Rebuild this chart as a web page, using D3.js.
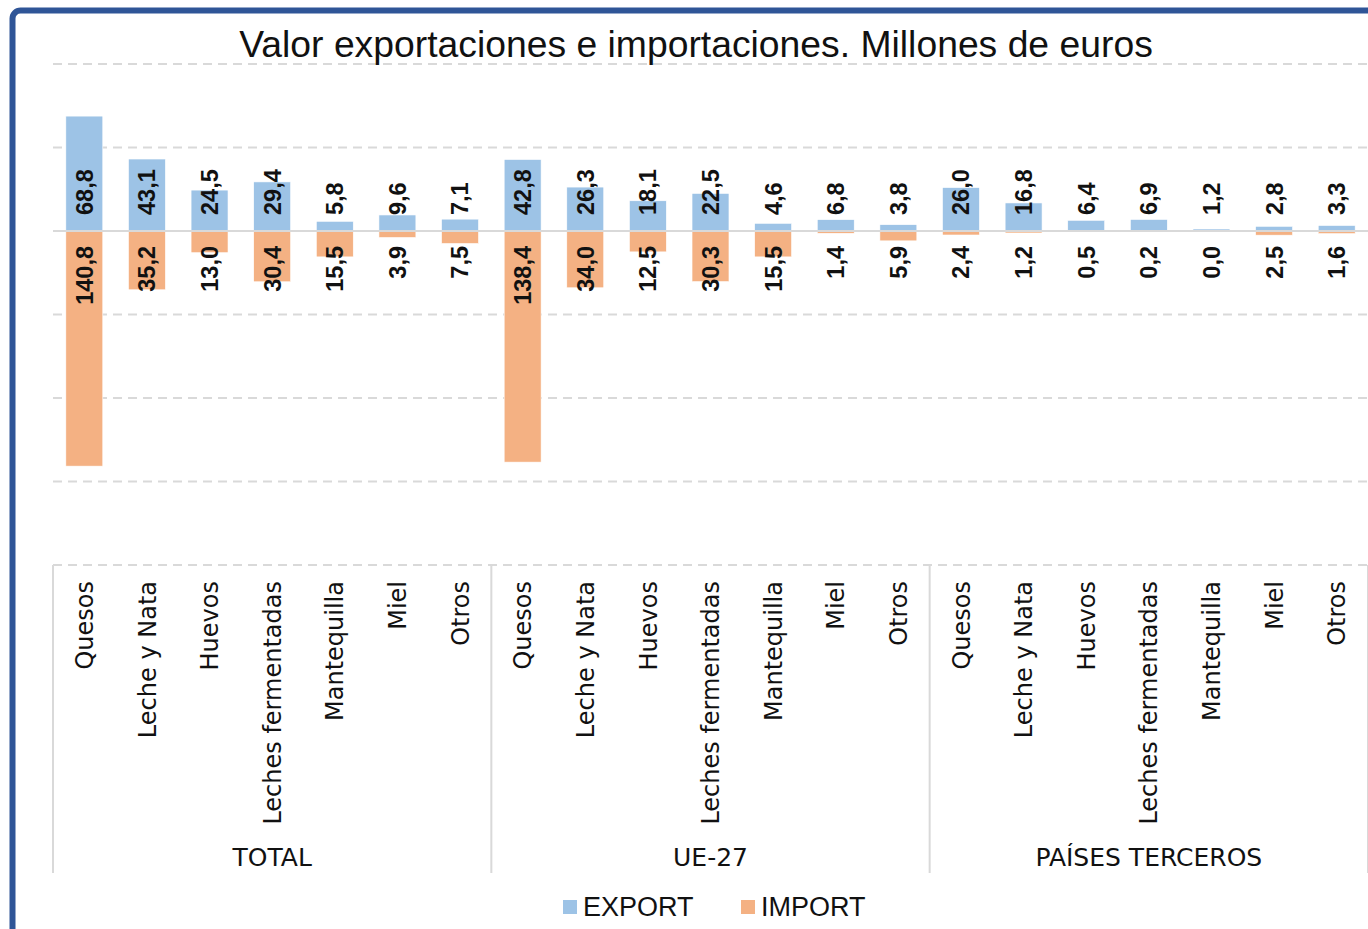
<!DOCTYPE html>
<html>
<head>
<meta charset="utf-8">
<script src="https://cdn.jsdelivr.net/npm/d3@7"></script>
<style>
  html, body { margin: 0; padding: 0; background: #fff; overflow: hidden; }
  svg { display: block; }
</style>
</head>
<body>
<svg id="chart"></svg>
<script>
// values (millones de euros)
var groups = ["TOTAL", "UE-27", "PAÍSES TERCEROS"];
var categories = ["Quesos", "Leche y Nata", "Huevos", "Leches fermentadas", "Mantequilla", "Miel", "Otros"];
var exportTotal = [68.8, 43.1, 24.5, 29.4, 5.8, 9.6, 7.1];
var importTotal = [140.8, 35.2, 13.0, 30.4, 15.5, 3.9, 7.5];
var exportUE = [42.8, 26.3, 18.1, 22.5, 4.6, 6.8, 3.8];
var importUE = [138.4, 34.0, 12.5, 30.3, 15.5, 1.4, 5.9];
var exportTerceros = [26.0, 16.8, 6.4, 6.9, 1.2, 2.8, 3.3];
var importTerceros = [2.4, 1.2, 0.5, 0.2, 0.0, 2.5, 1.6];
var yTicks = [-200, -150, -100, -50, 0, 50, 100];

var exportsByGroup = [exportTotal, exportUE, exportTerceros];
var importsByGroup = [importTotal, importUE, importTerceros];

const width = 1368, height = 929;
const blue = "#9DC3E6", orange = "#F4B183", grid = "#D9D9D9";

const svg = d3.select("#chart").attr("width", width).attr("height", height);

// flatten into rows
var rows = [];
groups.forEach(function(g, gi) {
    categories.forEach(function(c, ci) {
        rows.push({ group: g, cat: c, exp: exportsByGroup[gi][ci], imp: importsByGroup[gi][ci] });
    });
});

const xGroup = d3.scaleBand().domain(groups).range([53, 1368]);
const xCat = d3.scaleBand().domain(categories).range([0, xGroup.bandwidth()])
    .paddingInner(0.41).paddingOuter(0.205);
const y = d3.scaleLinear().domain([-200, 100]).range([565, 64]);

function cx(d) { return xGroup(d.group) + xCat(d.cat) + xCat.bandwidth() / 2; }

// frame
svg.append("rect")
    .attr("x", 12.5).attr("y", 10.5)
    .attr("width", 1500).attr("height", 1100)
    .attr("rx", 8)
    .attr("fill", "none")
    .attr("stroke", "#2F5597")
    .attr("stroke-width", 6);

// gridlines
svg.append("g").selectAll("line")
    .data(yTicks.filter(t => t !== 0))
    .enter().append("line")
    .attr("x1", 53).attr("x2", 1368)
    .attr("y1", d => y(d)).attr("y2", d => y(d))
    .attr("stroke", grid)
    .attr("stroke-width", 2)
    .attr("stroke-dasharray", "9,6");

// title
svg.append("text")
    .attr("x", 696).attr("y", 57)
    .attr("text-anchor", "middle")
    .style("font-family", "'Liberation Sans', Arial, sans-serif")
    .style("font-size", "37.3px")
    .attr("fill", "#111")
    .text("Valor exportaciones e importaciones. Millones de euros");

// bars
svg.append("g").selectAll("rect")
    .data(rows)
    .enter().append("rect")
    .attr("x", d => xGroup(d.group) + xCat(d.cat))
    .attr("width", xCat.bandwidth())
    .attr("y", d => y(d.exp))
    .attr("height", d => y(0) - y(d.exp))
    .attr("fill", blue)
    .attr("stroke", "#fff").attr("stroke-width", 0.6);

svg.append("g").selectAll("rect")
    .data(rows)
    .enter().append("rect")
    .attr("x", d => xGroup(d.group) + xCat(d.cat))
    .attr("width", xCat.bandwidth())
    .attr("y", y(0))
    .attr("height", d => y(-d.imp) - y(0))
    .attr("fill", orange)
    .attr("stroke", "#fff").attr("stroke-width", 0.6);

// zero line
svg.append("line")
    .attr("x1", 53).attr("x2", 1368)
    .attr("y1", y(0)).attr("y2", y(0))
    .attr("stroke", grid).attr("stroke-width", 2);

var fmt = v => v.toFixed(1).replace(".", ",");

// data labels
svg.append("g").selectAll("text")
    .data(rows)
    .enter().append("text")
    .attr("transform", d => "translate(" + cx(d) + "," + (y(0) - 16) + ") rotate(-90)")
    .attr("dy", "0.36em")
    .attr("text-anchor", "start")
    .style("font-family", "'Liberation Sans', Arial, sans-serif")
    .style("font-weight", "bold")
    .style("font-size", "23.5px")
    .attr("fill", "#111")
    .text(d => fmt(d.exp));

svg.append("g").selectAll("text")
    .data(rows)
    .enter().append("text")
    .attr("transform", d => "translate(" + cx(d) + "," + (y(0) + 15) + ") rotate(-90)")
    .attr("dy", "0.36em")
    .attr("text-anchor", "end")
    .style("font-family", "'Liberation Sans', Arial, sans-serif")
    .style("font-weight", "bold")
    .style("font-size", "23.5px")
    .attr("fill", "#111")
    .text(d => fmt(d.imp));

// category axis: group separators
var seps = groups.map(g => xGroup(g)).concat([xGroup.range()[1]]);
svg.append("g").selectAll("line")
    .data(seps)
    .enter().append("line")
    .attr("x1", d => d).attr("x2", d => d)
    .attr("y1", y(-200)).attr("y2", 873)
    .attr("stroke", grid).attr("stroke-width", 2);

// category labels
svg.append("g").selectAll("text")
    .data(rows)
    .enter().append("text")
    .attr("transform", d => "translate(" + cx(d) + ",581) rotate(-90)")
    .attr("dy", "0.36em")
    .attr("text-anchor", "end")
    .style("font-family", "'DejaVu Sans', Verdana, sans-serif")
    .style("font-size", "24px")
    .attr("fill", "#111")
    .text(d => d.cat);

// group labels
svg.append("g").selectAll("text")
    .data(groups)
    .enter().append("text")
    .attr("x", d => xGroup(d) + xGroup.bandwidth() / 2)
    .attr("y", 866)
    .attr("text-anchor", "middle")
    .style("font-family", "'DejaVu Sans', Verdana, sans-serif")
    .style("font-size", "25px")
    .attr("fill", "#111")
    .text(d => d);

// legend
var legend = [["EXPORT", blue, 563], ["IMPORT", orange, 741]];
var lg = svg.append("g").selectAll("g")
    .data(legend)
    .enter().append("g")
    .attr("transform", d => "translate(" + d[2] + ",900)");
lg.append("rect").attr("width", 14).attr("height", 14).attr("fill", d => d[1]);
lg.append("text")
    .attr("x", 20).attr("y", 16)
    .style("font-family", "'Liberation Sans', Arial, sans-serif")
    .style("font-size", "27px")
    .attr("fill", "#111")
    .text(d => d[0]);
</script>
</body>
</html>
